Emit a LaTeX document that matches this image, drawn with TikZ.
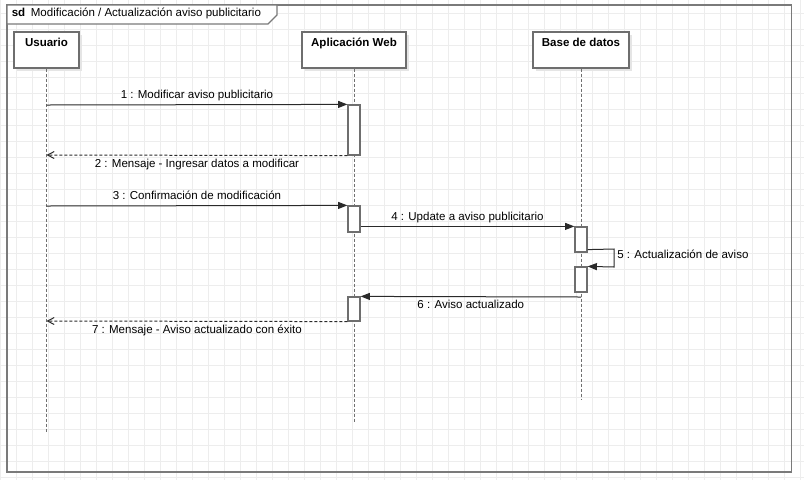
\documentclass[tikz,border=0pt]{standalone}
\usepackage{fontspec}
\setmainfont{Liberation Sans}
\usetikzlibrary{arrows.meta,shadows}
\definecolor{gridc}{HTML}{EDEDED}
\definecolor{boxc}{HTML}{6E6E6E}
\definecolor{framec}{HTML}{7A7A7A}
\definecolor{msgc}{HTML}{2A2A2A}
\definecolor{lifec}{HTML}{707070}
\begin{document}
\begin{tikzpicture}[x=0.75pt,y=-0.75pt,
  font=\fontsize{8.65pt}{10pt}\selectfont,
  head/.style={draw=boxc, fill=white, line width=0.9pt, inner sep=0pt, minimum height=27pt,
    drop shadow={shadow xshift=2.5pt, shadow yshift=-2.5pt, fill=black!10, opacity=1}},
  headtext/.style={font=\fontsize{8.65pt}{10pt}\selectfont\bfseries, inner sep=0pt, text height=6.2pt, text depth=1.8pt},
  life/.style={draw=lifec, line width=0.75pt, dash pattern=on 2.25pt off 1.5pt},
  act/.style={draw=boxc, fill=white, line width=0.9pt, minimum width=9pt, inner sep=0pt},
  msg/.style={draw=msgc, line width=0.75pt, -{Triangle[length=7pt,width=5.25pt]}},
  ret/.style={draw=msgc, line width=0.75pt, dash pattern=on 2.25pt off 1.5pt, -{Straight Barb[length=5pt,width=5.25pt]}},
  lbl/.style={inner sep=0pt, text height=6.2pt, text depth=1.8pt},
  lblabove/.style={lbl, yshift=7pt},
  lblbelow/.style={lbl, yshift=-7pt}]
\useasboundingbox (0,0) rectangle (804,480);
\fill[white] (0,0) rectangle (804,480);
\foreach \gx in {0,16,...,800} \draw[gridc, line width=0.75pt] (\gx,0) -- (\gx,480);
\foreach \gy in {13,29,...,477} \draw[gridc, line width=0.75pt] (0,\gy) -- (804,\gy);
% frame
\draw[framec, line width=1.1pt] (7,5) rectangle (791.5,472);
\draw[framec, fill=white, line width=0.9pt] (7,5) -- (277,5) -- (277,15) -- (268,24) -- (7,24) -- cycle;
\node[anchor=west, lbl] (title) at (11.5,14) {\textbf{sd}\hspace{4.2pt}Modificación / Actualización aviso publicitario};
% heads
\node[head, minimum width=48.75pt] (usr) at (46.5,50) {};
\node[headtext] (usrT) at (46.5,44) {Usuario};
\node[head, minimum width=78pt] (app) at (354,50) {};
\node[headtext] (appT) at (354,44) {Aplicación Web};
\node[head, minimum width=72pt] (db) at (581,50) {};
\node[headtext] (dbT) at (581,44) {Base de datos};
% lifelines
\coordinate (usrEnd) at (46.5,432);
\coordinate (appEnd) at (354,422);
\coordinate (dbEnd) at (581,399);
\draw[life] (usr.south) -- (usrEnd);
\draw[life] (app.south) -- (appEnd);
\draw[life] (db.south) -- (dbEnd);
% activations
\node[act, minimum height=37.5pt] (a1) at (354,130) {};
\node[act, minimum height=19.5pt] (a2) at (354,219) {};
\node[act, minimum height=18.75pt] (a3) at (581,239.5) {};
\node[act, minimum height=18.75pt] (a4) at (581,279.5) {};
\node[act, minimum height=18pt] (a5) at (354,309) {};
% messages
\coordinate (u1) at (46.5,105);
\draw[msg] (u1) -- (a1.north west) node[midway, lblabove] (l1) {1 : Modificar aviso publicitario};
\coordinate (u2) at (46.5,155);
\draw[ret] (a1.south west) -- (u2) node[midway, lblbelow] (l2) {2 : Mensaje - Ingresar datos a modificar};
\coordinate (u3) at (46.5,206);
\draw[msg] (u3) -- (a2.north west) node[midway, lblabove] (l3) {3 : Confirmación de modificación};
\draw[msg] (a2.east |- a3.north west) -- (a3.north west) node[midway, lblabove] (l4) {4 : Update a aviso publicitario};
\coordinate (s5a) at (614,249);
\coordinate (s5b) at (614,267);
\draw[msg] ([yshift=2.25pt]a3.south east) -- (s5a) -- (s5b) -- (a4.north east);
\node[lbl, anchor=west] (l5) at (617,256) {5 : Actualización de aviso};
\coordinate (d6) at (581,297);
\draw[msg] (d6) -- (a5.north east) node[midway, lblbelow] (l6) {6 : Aviso actualizado};
\coordinate (u7) at (46.5,321);
\draw[ret] (a5.south west) -- (u7) node[midway, lblbelow] (l7) {7 : Mensaje - Aviso actualizado con éxito};
\end{tikzpicture}
\end{document}
